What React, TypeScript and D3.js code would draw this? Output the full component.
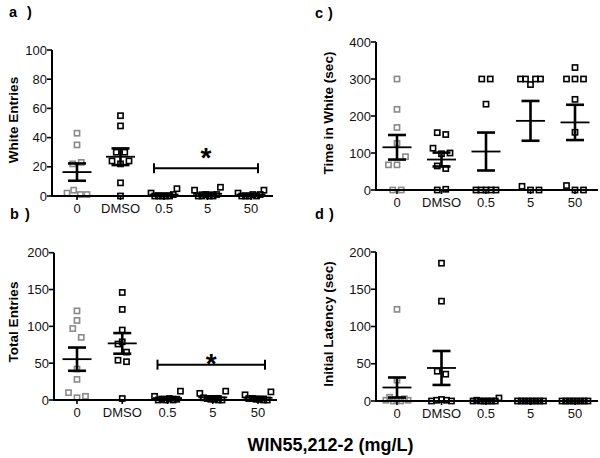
import React from "react";
import * as d3 from "d3";

const categories = ["0", "DMSO", "0.5", "5", "50"];

// Individual animals per group (order = left-to-right within a row of the scatter)
const whiteEntries = [
  [43, 35, 22, 23, 2, 4, 1, 1],
  [55, 48, 30, 30, 24, 22, 24, 9, 0],
  [2, 0, 0, 0, 0, 0, 1, 5],
  [4, 0, 0, 1, 0, 0, 1, 6],
  [2, 0, 0, 0, 1, 0, 1, 4],
];
const totalEntries = [
  [121, 108, 97, 85, 42, 28, 10, 3, 5],
  [146, 123, 95, 76, 79, 65, 54, 52, 2],
  [5, 0, 1, 0, 2, 0, 1, 12],
  [9, 3, 2, 1, 1, 0, 0, 12],
  [7, 2, 2, 1, 1, 0, 0, 11],
];
const timeInWhite = [
  [300, 218, 169, 126, 68, 68, 90, 0, 0],
  [155, 150, 113, 98, 100, 65, 58, 0, 2],
  [300, 300, 232, 0, 0, 0, 0, 0],
  [300, 300, 285, 300, 300, 10, 0, 0],
  [331, 300, 300, 300, 245, 156, 12, 0, 0],
];
const initialLatency = [
  [123, 28, 1, 5, 0, 2, 0, 3, 1],
  [185, 134, 40, 36, 0, 1, 2, 1, 0],
  [0, 1, 0, 0, 0, 0, 0, 4],
  [0, 0, 0, 0, 0, 0, 0, 0],
  [0, 0, 0, 0, 0, 0, 0, 0],
];

const ticksA = [0, 20, 40, 60, 80, 100];
const ticksB = [0, 50, 100, 150, 200];
const ticksC = [0, 100, 200, 300, 400];
const ticksD = [0, 50, 100, 150, 200];

const sigA = { from: "0.5", to: "50", value: 19 };
const sigB = { from: "0.5", to: "50", value: 48 };

const FONT = "'Liberation Sans', Arial, Helvetica, sans-serif";
const GRAY = "#8a8a8a";

function scatterOffsets(vals: number[], y: d3.ScaleLinear<number, number>) {
  const order = vals.map((_, i) => i).sort((a, b) => vals[a] - vals[b] || a - b);
  const rows: { start: number; items: number[] }[] = [];
  let cur: { start: number; items: number[] } | null = null;
  for (const i of order) {
    const py = y(0) - y(vals[i]);
    if (!cur || py - cur.start > 9) {
      cur = { start: py, items: [] };
      rows.push(cur);
    }
    cur.items.push(i);
  }
  const off = new Array(vals.length).fill(0);
  for (const r of rows) {
    const items = [...r.items].sort((a, b) => a - b);
    const k = items.length;
    const sp = k <= 3 ? 8.5 : Math.max(3.7, 20 / (k - 1));
    items.forEach((idx, j) => {
      off[idx] = (j - (k - 1) / 2) * sp;
    });
  }
  return off;
}

type PanelProps = {
  data: number[][];
  ticks: number[];
  axisX0: number;
  axisX1: number;
  catX0: number;
  catX1: number;
  yBase: number;
  yTop: number;
  title: string;
  titleX: number;
  titleY: number;
  letter: string;
  letterX: number;
  parenX: number;
  letterY: number;
  sig?: { from: string; to: string; value: number };
  starGap?: number;
};

function Panel(p: PanelProps) {
  const x = d3.scalePoint<string>().domain(categories).range([p.catX0, p.catX1]);
  const yMax = p.ticks[p.ticks.length - 1];
  const y = d3.scaleLinear().domain([0, yMax]).range([p.yBase, p.yTop]);
  const sq = 5.2;
  return (
    <g>
      <text x={p.letterX} y={p.letterY} fontFamily={FONT} fontWeight="bold" fontSize={14.5}>
        {p.letter}
      </text>
      <text x={p.parenX} y={p.letterY} fontFamily={FONT} fontWeight="bold" fontSize={14.5}>
        )
      </text>
      <text
        transform={`translate(${p.titleX},${p.titleY}) rotate(-90)`}
        textAnchor="middle"
        fontFamily={FONT}
        fontWeight="bold"
        fontSize={13.5}
      >
        {p.title}
      </text>
      {/* y axis */}
      <line x1={p.axisX0} x2={p.axisX0} y1={y(0) + 1} y2={y(yMax)} stroke="#000" strokeWidth={2} />
      {p.ticks.map((t) => (
        <g key={t}>
          <line x1={p.axisX0 - 5} x2={p.axisX0} y1={y(t)} y2={y(t)} stroke="#000" strokeWidth={1.6} />
          <text
            x={p.axisX0 - 5}
            y={y(t)}
            dy="0.35em"
            textAnchor="end"
            fontFamily={FONT}
            fontSize={13}
            fill="#111"
          >
            {t}
          </text>
        </g>
      ))}
      {/* points */}
      {p.data.map((vals, gi) => {
        const cx = x(categories[gi])!;
        const offs = scatterOffsets(vals, y);
        const color = gi === 0 ? GRAY : "#000";
        return (
          <g key={"pts" + gi}>
            {vals.map((v, i) => (
              <rect
                key={i}
                x={cx + offs[i] - sq / 2}
                y={y(v) - sq / 2}
                width={sq}
                height={sq}
                fill="none"
                stroke={color}
                strokeWidth={1.6}
              />
            ))}
          </g>
        );
      })}
      {/* x axis */}
      <line x1={p.axisX0 - 1} x2={p.axisX1} y1={y(0)} y2={y(0)} stroke="#000" strokeWidth={2} />
      {categories.map((c) => (
        <g key={c}>
          <line x1={x(c)} x2={x(c)} y1={y(0)} y2={y(0) + 4} stroke="#000" strokeWidth={1.6} />
          <text x={x(c)} y={y(0) + 17} textAnchor="middle" fontFamily={FONT} fontSize={13} fill="#111">
            {c}
          </text>
        </g>
      ))}
      {/* mean ± SEM */}
      {p.data.map((vals, gi) => {
        const cx = x(categories[gi])!;
        const m = d3.mean(vals)!;
        const sem = (d3.deviation(vals) || 0) / Math.sqrt(vals.length);
        return (
          <g key={"ms" + gi} stroke="#000" fill="none">
            <line x1={cx - 14.5} x2={cx + 14.5} y1={y(m)} y2={y(m)} strokeWidth={1.8} />
            <line x1={cx} x2={cx} y1={y(m + sem)} y2={y(m - sem)} strokeWidth={2.6} />
            <line x1={cx - 9} x2={cx + 9} y1={y(m + sem)} y2={y(m + sem)} strokeWidth={2.6} />
            <line x1={cx - 9} x2={cx + 9} y1={y(m - sem)} y2={y(m - sem)} strokeWidth={2.6} />
          </g>
        );
      })}
      {p.sig && (
        <g>
          <line
            x1={x(p.sig.from)! - 10}
            x2={x(p.sig.to)! + 7}
            y1={y(p.sig.value)}
            y2={y(p.sig.value)}
            stroke="#000"
            strokeWidth={2}
          />
          <line
            x1={x(p.sig.from)! - 10}
            x2={x(p.sig.from)! - 10}
            y1={y(p.sig.value) - 5}
            y2={y(p.sig.value) + 5}
            stroke="#000"
            strokeWidth={2}
          />
          <line
            x1={x(p.sig.to)! + 7}
            x2={x(p.sig.to)! + 7}
            y1={y(p.sig.value) - 5}
            y2={y(p.sig.value) + 5}
            stroke="#000"
            strokeWidth={2}
          />
          <text
            x={(x(p.sig.from)! + x(p.sig.to)!) / 2 - 1.5}
            y={y(p.sig.value) - (p.starGap || 0) + 11}
            textAnchor="middle"
            fontFamily={FONT}
            fontWeight="bold"
            fontSize={28}
          >
            *
          </text>
        </g>
      )}
    </g>
  );
}

export default function App() {
  return (
    <svg
      width={600}
      height={458}
      style={{ position: "absolute", left: 0, top: 0, background: "#fff" }}
    >
      <rect width={600} height={458} fill="#fff" />
      <Panel
        data={whiteEntries}
        ticks={ticksA}
        axisX0={52}
        axisX1={273}
        catX0={77}
        catX1={251}
        yBase={196}
        yTop={50}
        title="White Entries"
        titleX={18}
        titleY={120}
        letter="a"
        letterX={9}
        parenX={27}
        letterY={17}
        sig={sigA}
        starGap={12}
      />
      <Panel
        data={totalEntries}
        ticks={ticksB}
        axisX0={54}
        axisX1={277}
        catX0={77}
        catX1={258}
        yBase={400}
        yTop={252.7}
        title="Total Entries"
        titleX={18}
        titleY={322}
        letter="b"
        letterX={10}
        parenX={25}
        letterY={219}
        sig={sigB}
        starGap={2.5}
      />
      <Panel
        data={timeInWhite}
        ticks={ticksC}
        axisX0={376}
        axisX1={598}
        catX0={397}
        catX1={575}
        yBase={190}
        yTop={42}
        title="Time in White (sec)"
        titleX={333}
        titleY={113}
        letter="c"
        letterX={315}
        parenX={328}
        letterY={18}
      />
      <Panel
        data={initialLatency}
        ticks={ticksD}
        axisX0={376}
        axisX1={598}
        catX0={397}
        catX1={575}
        yBase={401}
        yTop={252}
        title="Initial Latency (sec)"
        titleX={333}
        titleY={324}
        letter="d"
        letterX={315}
        parenX={329}
        letterY={219}
      />
      <text x={330.5} y={451} textAnchor="middle" fontFamily={FONT} fontWeight="bold" fontSize={18}>
        WIN55,212-2 (mg/L)
      </text>
    </svg>
  );
}
